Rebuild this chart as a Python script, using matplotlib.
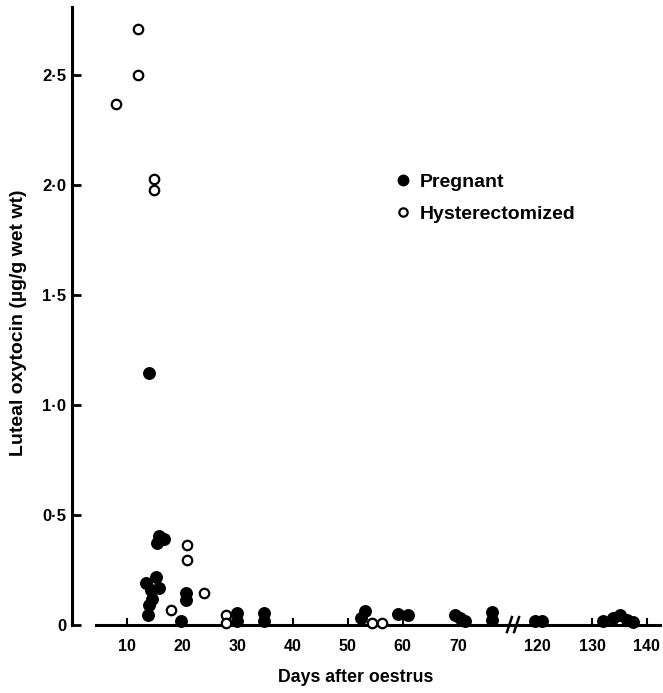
import matplotlib
matplotlib.use("Agg")
import matplotlib.pyplot as plt

plt.rcParams['font.family'] = ['Liberation Sans', 'DejaVu Sans']

# days after oestrus / luteal oxytocin (ug/g wet wt)
preg_day = [14.0, 15.8, 16.7, 15.5, 15.3, 13.5, 15.8, 14.4, 14.5, 14.0, 13.8,
            20.7, 20.7, 19.8, 30.0, 30.0, 34.9, 34.9, 53.1, 52.5, 59.1, 60.9,
            69.5, 70.4, 71.3, 76.2, 76.2,
            119.6, 120.9, 132.0, 133.8, 135.1, 136.4, 137.5]
preg_val = [1.145, 0.405, 0.39, 0.375, 0.22, 0.19, 0.17, 0.16, 0.12, 0.09, 0.045,
            0.145, 0.115, 0.02, 0.055, 0.02, 0.055, 0.02, 0.065, 0.03, 0.05, 0.045,
            0.045, 0.03, 0.02, 0.06, 0.025,
            0.02, 0.02, 0.02, 0.03, 0.045, 0.025, 0.015]

hyst_day = [8.0, 12.0, 12.0, 14.9, 14.9, 20.9, 20.9, 18.0, 24.0, 28.0, 28.0, 54.4, 56.2]
hyst_val = [2.37, 2.71, 2.50, 2.03, 1.98, 0.365, 0.295, 0.07, 0.145, 0.045, 0.01, 0.01, 0.01]

yticks = [0, 0.5, 1.0, 1.5, 2.0, 2.5]
ytick_labels = ['0', '0·5', '1·0', '1·5', '2·0', '2·5']
xticks_left = [10, 20, 30, 40, 50, 60, 70]
xticks_right = [120, 130, 140]

W, H = 663, 693
fig = plt.figure(figsize=(W / 100, H / 100), dpi=100)

x0, xb, x1 = 72, 513, 660
yb, yt = 625, 7
axl = fig.add_axes([x0 / W, (H - yb) / H, (xb - x0) / W, (yb - yt) / H])
axr = fig.add_axes([xb / W, (H - yb) / H, (x1 - xb) / W, (yb - yt) / H])

for ax in (axl, axr):
    ax.set_ylim(0, 2.81)
    ax.patch.set_visible(False)
    ax.spines['top'].set_visible(False)
    ax.spines['right'].set_visible(False)
    ax.spines['bottom'].set_linewidth(2.2)
    ax.tick_params(axis='x', direction='in', length=5, width=1.5, pad=10, labelsize=11.5)
    ax.tick_params(axis='y', direction='in', length=6.5, width=2, pad=4, labelsize=12)

axl.set_xlim(0, 80)
axr.set_xlim(115.6, 142.4)
axl.spines['bottom'].set_bounds(4.4, 80)
axl.spines['left'].set_linewidth(2.2)
axr.spines['left'].set_visible(False)
axr.tick_params(axis='y', left=False, labelleft=False)

axl.set_xticks(xticks_left)
axr.set_xticks(xticks_right)
axl.set_yticks(yticks)
axl.set_yticklabels(ytick_labels, fontweight='bold')
axl.set_xticklabels([str(t) for t in xticks_left], fontweight='bold')
axr.set_xticklabels([str(t) for t in xticks_right], fontweight='bold')

# split each series between the two halves of the broken axis
for ax, keep in ((axl, lambda d: d < 100), (axr, lambda d: d >= 100)):
    pd_ = [d for d in preg_day if keep(d)]
    pv_ = [v for d, v in zip(preg_day, preg_val) if keep(d)]
    hd_ = [d for d in hyst_day if keep(d)]
    hv_ = [v for d, v in zip(hyst_day, hyst_val) if keep(d)]
    p, = ax.plot(pd_, pv_, 'o', color='black', markersize=8.3,
                 clip_on=False, zorder=3)
    if hd_:
        h, = ax.plot(hd_, hv_, 'o', markerfacecolor='white',
                     markeredgecolor='black', markeredgewidth=1.6, markersize=6.8,
                     clip_on=False, zorder=4)

# axis break marks
for xa, xc in [(78.9, 79.8), (80.2, 81.1)]:
    axl.plot([xa, xc], [-0.032, 0.036], color='black', lw=1.8, clip_on=False, zorder=5)

leg = fig.legend([p, h], ['Pregnant', 'Hysterectomized'], loc='upper left',
                 bbox_to_anchor=(379 / W, 1 - 156 / H), frameon=False, numpoints=1,
                 handlelength=0.7, handletextpad=0.5, labelspacing=0.75,
                 prop={'size': 14, 'weight': 'bold'})
leg.legend_handles[0].set_markersize(7.5)
leg.legend_handles[1].set_markersize(6)

fig.text(19 / W, 1 - 323 / H, 'Luteal oxytocin (µg/g wet wt)', rotation=90,
         ha='center', va='center', fontsize=14, fontweight='bold')
fig.text(356 / W, 1 - 678 / H, 'Days after oestrus', ha='center', va='center',
         fontsize=12.8, fontweight='bold')

fig.savefig('out.png', dpi=100)
